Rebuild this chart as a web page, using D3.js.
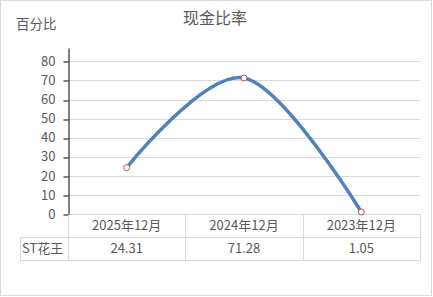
<!DOCTYPE html>
<html>
<head>
<meta charset="utf-8">
<script src="https://cdn.jsdelivr.net/npm/d3@7"></script>
<style>
  body { margin: 0; background: #fff; }
  text { font-family: "Noto Sans CJK SC", "Noto Sans", sans-serif; fill: #595959; }
</style>
</head>
<body>
<script>
let w = 433;
let h = 297;

// data
let categories = ["2025年12月", "2024年12月", "2023年12月"];
let values = [24.31, 71.28, 1.05];
let valueLabels = ["24.31", "71.28", "1.05"];
let seriesName = "ST花王";
let yTicks = [0, 10, 20, 30, 40, 50, 60, 70, 80];

let plotLeft = 68, plotRight = 420, plotTop = 48, base = 214;
let rowH = 23;

let svg = d3.select("body")
            .append("svg")
            .attr("width", w)
            .attr("height", h);

//outer frame
svg.append("rect")
   .attr("x", 0.5).attr("y", 0.5)
   .attr("width", 431).attr("height", 295)
   .attr("fill", "#fff")
   .attr("stroke", "#d9d9d9");

let x = d3.scaleBand()
          .domain(categories)
          .range([plotLeft, plotRight])
          .padding(0);

let y = d3.scaleLinear()
          .domain([0, 87])
          .range([base, plotTop]);

//gridlines
svg.append("g")
   .selectAll("line")
   .data(yTicks)
   .enter()
   .append("line")
   .attr("x1", plotLeft)
   .attr("x2", plotRight)
   .attr("y1", d => Math.round(y(d)) + 0.5)
   .attr("y2", d => Math.round(y(d)) + 0.5)
   .attr("stroke", "#d9d9d9");

//y axis
let yAxis = d3.axisLeft(y)
              .tickValues(yTicks)
              .tickSize(5)
              .tickSizeOuter(0)
              .tickPadding(8);

let ga = svg.append("g")
            .attr("transform", "translate(" + (plotLeft + 0.5) + ",0)")
            .call(yAxis);
ga.select(".domain").attr("stroke", "#000");
ga.selectAll(".tick line").attr("stroke", "#000")
  .attr("transform", d => "translate(0," + (Math.round(y(d)) + 0.5 - y(d)) + ")");
ga.selectAll(".tick text")
  .attr("font-size", 13)
  .attr("font-family", "'Noto Sans CJK SC', sans-serif")
  .attr("fill", "#595959");

//data table
let tb = svg.append("g").attr("stroke", "#d9d9d9");
let r1 = base + rowH, r2 = base + 2 * rowH;
tb.append("line").attr("x1", 20).attr("x2", plotRight).attr("y1", r1 + 0.5).attr("y2", r1 + 0.5);
tb.append("line").attr("x1", 20).attr("x2", plotRight).attr("y1", r2 + 0.5).attr("y2", r2 + 0.5);
tb.append("line").attr("x1", 20.5).attr("x2", 20.5).attr("y1", r1).attr("y2", r2 + 1);
tb.selectAll(".col")
  .data(categories)
  .enter()
  .append("line")
  .attr("x1", d => Math.round(x(d) + x.bandwidth()) + 0.5)
  .attr("x2", d => Math.round(x(d) + x.bandwidth()) + 0.5)
  .attr("y1", base)
  .attr("y2", r2 + 1);
tb.append("line").attr("x1", plotLeft + 0.5).attr("x2", plotLeft + 0.5).attr("y1", base + 1).attr("y2", r2 + 1);

svg.append("g")
   .selectAll("text")
   .data(categories)
   .enter()
   .append("text")
   .attr("x", d => x(d) + x.bandwidth() / 2)
   .attr("y", base + rowH / 2 + 1)
   .attr("text-anchor", "middle")
   .attr("dominant-baseline", "middle")
   .attr("font-size", 13)
   .text(d => d);

svg.append("g")
   .selectAll("text")
   .data(valueLabels)
   .enter()
   .append("text")
   .attr("x", (d, i) => x(categories[i]) + x.bandwidth() / 2)
   .attr("y", r1 + rowH / 2 + 1)
   .attr("text-anchor", "middle")
   .attr("dominant-baseline", "middle")
   .attr("font-size", 13)
   .text(d => d);

svg.append("text")
   .attr("x", 22)
   .attr("y", r1 + rowH / 2 + 1)
   .attr("dominant-baseline", "middle")
   .attr("font-size", 13)
   .text(seriesName);

//smoothed line
let pts = categories.map((c, i) => [x(c) + x.bandwidth() / 2, y(values[i])]);

let line = d3.line()
             .curve(d3.curveCatmullRom.alpha(0));

svg.append("path")
   .attr("d", line(pts))
   .attr("fill", "none")
   .attr("stroke", "#4f81bd")
   .attr("stroke-width", 3.5)
   .attr("stroke-linecap", "round");

svg.selectAll(".dot")
   .data(pts)
   .enter()
   .append("circle")
   .attr("cx", d => d[0])
   .attr("cy", d => d[1])
   .attr("r", 3)
   .attr("fill", "#fff")
   .attr("stroke", "#c0504d")
   .attr("stroke-width", 1);

//titles
svg.append("text")
   .attr("x", 215)
   .attr("y", 20)
   .attr("text-anchor", "middle")
   .attr("dominant-baseline", "middle")
   .attr("font-size", 16)
   .text("现金比率");

svg.append("text")
   .attr("x", 16)
   .attr("y", 25)
   .attr("dominant-baseline", "middle")
   .attr("font-size", 13.5)
   .text("百分比");
</script>
</body>
</html>
